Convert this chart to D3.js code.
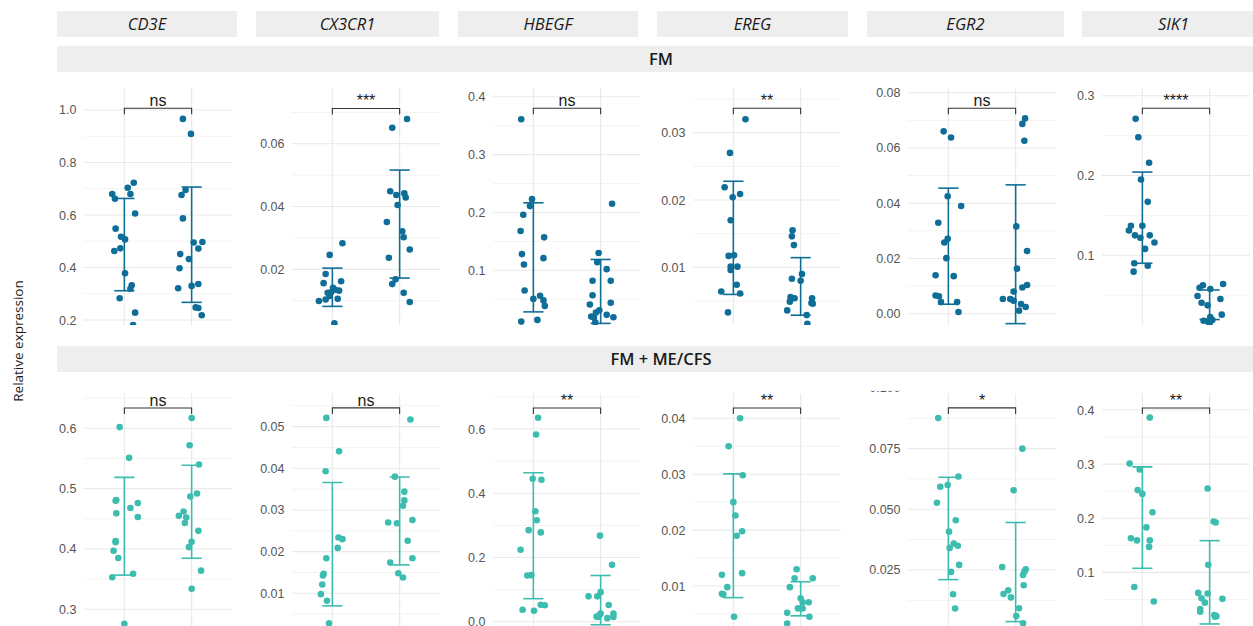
<!DOCTYPE html>
<html>
<head>
<meta charset="utf-8">
<script src="https://cdn.jsdelivr.net/npm/d3@7"></script>
<style>
  body { margin: 0; background: #ffffff; }
  svg { display: block; }
</style>
</head>
<body>
<svg id="chart" width="1253" height="626"></svg>
<script>
// ---------------------------------------------------------------
// Data: relative expression per gene, two cohorts, two conditions
// ---------------------------------------------------------------
const genes = ["CD3E", "CX3CR1", "HBEGF", "EREG", "EGR2", "SIK1"];
const cohorts = ["FM", "FM + ME/CFS"];
const conditions = ["Control", "Patient"];

// FM cohort, one list per gene (same order as `genes`)
const fmControl = [
  [0.680, 0.662, 0.704, 0.680, 0.723, 0.606, 0.548, 0.517, 0.507, 0.473, 0.463, 0.378, 0.332, 0.319, 0.283, 0.228, 0.181],
  [0.0283, 0.0246, 0.0185, 0.0156, 0.0162, 0.0141, 0.0132, 0.0127, 0.0125, 0.0104, 0.0099, 0.0106, 0.0028, 0.0115, 0.0135],
  [0.361, 0.223, 0.211, 0.196, 0.168, 0.157, 0.128, 0.121, 0.110, 0.065, 0.056, 0.0506, 0.048, 0.0385, 0.0143, 0.0114],
  [0.0320, 0.0270, 0.0219, 0.0204, 0.0209, 0.0170, 0.0117, 0.0118, 0.0101, 0.0101, 0.0096, 0.0074, 0.0064, 0.0061, 0.0033],
  [0.0660, 0.0638, 0.0425, 0.0390, 0.0329, 0.0271, 0.0258, 0.0201, 0.0139, 0.0136, 0.0066, 0.0063, 0.0042, 0.0042, 0.0006],
  [0.271, 0.248, 0.216, 0.195, 0.167, 0.137, 0.131, 0.137, 0.125, 0.125, 0.122, 0.116, 0.108, 0.090, 0.087, 0.0795]
];
const fmPatient = [
  [0.966, 0.909, 0.695, 0.676, 0.587, 0.495, 0.497, 0.472, 0.451, 0.432, 0.397, 0.321, 0.330, 0.337, 0.248, 0.246, 0.218],
  [0.0679, 0.0651, 0.0449, 0.0437, 0.0442, 0.0429, 0.0405, 0.0351, 0.0321, 0.0302, 0.0263, 0.0237, 0.0168, 0.0153, 0.0125, 0.0096],
  [0.215, 0.130, 0.114, 0.102, 0.082, 0.082, 0.057, 0.041, 0.044, 0.031, 0.027, 0.023, 0.020, 0.019, 0.019, 0.010],
  [0.0155, 0.0146, 0.0133, 0.0083, 0.0090, 0.0080, 0.0056, 0.0054, 0.0049, 0.0054, 0.0047, 0.0046, 0.0036, 0.0029, 0.0016],
  [0.0707, 0.0687, 0.0626, 0.0316, 0.0227, 0.0163, 0.0104, 0.0095, 0.0080, 0.0053, 0.0053, 0.0047, 0.0035, 0.0024, 0.0011],
  [0.064, 0.0624, 0.0594, 0.0578, 0.049, 0.0453, 0.0406, 0.0373, 0.0256, 0.0227, 0.018, 0.0173, 0.0189, 0.014]
];

// FM + ME/CFS cohort
const mixControl = [
  [0.602, 0.551, 0.481, 0.480, 0.476, 0.468, 0.459, 0.453, 0.413, 0.411, 0.397, 0.385, 0.359, 0.353, 0.276],
  [0.0521, 0.0441, 0.0393, 0.0234, 0.0230, 0.0209, 0.0184, 0.0147, 0.0143, 0.0121, 0.0098, 0.0082, 0.0028],
  [0.635, 0.583, 0.445, 0.442, 0.344, 0.316, 0.285, 0.278, 0.224, 0.144, 0.145, 0.037, 0.034, 0.053, 0.051],
  [0.0400, 0.0350, 0.0298, 0.0250, 0.0226, 0.0198, 0.0190, 0.0123, 0.0120, 0.0098, 0.0086, 0.0085, 0.0045],
  [0.0876, 0.0635, 0.0600, 0.0593, 0.0527, 0.0455, 0.0408, 0.0359, 0.0350, 0.0341, 0.0271, 0.0242, 0.0150, 0.0091],
  [0.386, 0.301, 0.290, 0.252, 0.245, 0.211, 0.183, 0.163, 0.159, 0.159, 0.147, 0.073, 0.046]
];
const mixPatient = [
  [0.617, 0.572, 0.540, 0.492, 0.487, 0.462, 0.455, 0.452, 0.443, 0.430, 0.412, 0.403, 0.364, 0.334],
  [0.0517, 0.0380, 0.0344, 0.0323, 0.0310, 0.0276, 0.0270, 0.0268, 0.0226, 0.0184, 0.0174, 0.0148, 0.0138],
  [0.268, 0.177, 0.079, 0.092, 0.079, 0.052, 0.025, 0.015, 0.025, 0.011, 0.015, 0.020, 0.016],
  [0.0130, 0.0114, 0.0114, 0.0098, 0.0078, 0.0071, 0.0071, 0.0060, 0.0060, 0.0052, 0.0045, 0.0033],
  [0.0750, 0.0578, 0.0262, 0.0253, 0.0243, 0.0229, 0.0187, 0.0166, 0.0151, 0.0137, 0.0092, 0.0060, 0.0030],
  [0.255, 0.194, 0.192, 0.114, 0.062, 0.061, 0.052, 0.051, 0.044, 0.032, 0.027, 0.021, 0.019, 0.018]
];

// Horizontal jitter of every point, in category units (one per value above)
const fmControlJitter = [
  [-0.18, -0.14, 0.05, 0.09, 0.14, 0.16, -0.13, -0.05, 0.01, -0.06, -0.15, 0.01, 0.11, 0.09, -0.07, 0.16, 0.13],
  [0.15, -0.04, -0.10, -0.13, 0.13, 0.01, 0.10, -0.02, -0.07, -0.10, -0.20, 0.08, 0.03, -0.04, 0.04],
  [-0.18, -0.02, -0.05, -0.15, -0.19, 0.16, -0.17, 0.15, -0.14, -0.13, 0.10, 0.00, 0.15, 0.17, 0.06, -0.18],
  [0.18, -0.05, -0.13, -0.01, 0.10, -0.04, -0.07, 0.01, -0.04, 0.06, -0.04, 0.05, -0.18, 0.10, -0.08],
  [-0.07, 0.04, -0.01, 0.19, -0.15, -0.01, -0.06, -0.03, -0.19, 0.08, -0.19, -0.14, -0.11, 0.13, 0.15],
  [-0.10, -0.06, 0.10, -0.02, 0.08, -0.17, -0.20, 0.00, -0.11, 0.11, -0.03, 0.18, 0.04, -0.12, 0.08, -0.13]
];
const fmPatientJitter = [
  [-0.13, -0.01, -0.09, -0.15, -0.13, 0.03, 0.16, 0.10, -0.17, -0.04, -0.18, -0.20, 0.00, 0.10, 0.06, 0.10, 0.15],
  [0.11, -0.11, -0.14, -0.05, 0.07, 0.09, -0.03, -0.19, 0.04, 0.06, 0.15, -0.16, -0.06, -0.11, 0.06, 0.15],
  [0.17, -0.03, -0.05, 0.09, -0.12, 0.15, -0.12, -0.16, 0.15, -0.02, -0.07, 0.09, -0.14, -0.10, 0.19, -0.08],
  [-0.12, -0.13, -0.10, -0.13, 0.02, 0.00, -0.15, -0.09, -0.16, 0.17, 0.16, 0.18, -0.20, 0.09, 0.10],
  [0.14, 0.10, 0.13, 0.01, 0.17, 0.02, 0.17, 0.10, -0.03, -0.19, -0.08, -0.03, 0.08, 0.15, 0.05],
  [0.20, -0.10, -0.15, 0.01, -0.18, 0.16, -0.12, -0.03, 0.18, 0.01, -0.09, -0.03, 0.04, 0.00]
];
const mixControlJitter = [
  [-0.07, 0.07, -0.12, -0.13, 0.20, 0.09, -0.12, 0.20, -0.13, -0.13, -0.16, -0.09, 0.13, -0.18, 0.00],
  [-0.09, 0.10, -0.10, 0.09, 0.15, 0.08, -0.09, -0.13, -0.14, -0.15, -0.17, -0.08, -0.05],
  [0.07, 0.04, -0.01, 0.12, 0.03, 0.05, -0.07, 0.11, -0.19, -0.09, -0.03, -0.16, 0.01, 0.11, 0.17],
  [0.10, -0.07, 0.14, 0.00, 0.03, 0.13, 0.05, 0.13, -0.17, -0.09, -0.17, -0.15, 0.01],
  [-0.15, 0.15, -0.01, -0.12, -0.17, 0.11, 0.01, 0.08, 0.14, 0.02, 0.16, 0.04, 0.07, 0.10],
  [0.11, -0.19, -0.04, -0.07, 0.00, 0.15, 0.06, -0.17, -0.08, 0.11, 0.10, -0.12, 0.17]
];
const mixPatientJitter = [
  [0.00, -0.03, 0.11, 0.08, -0.02, -0.12, -0.19, -0.08, -0.10, 0.10, 0.00, -0.04, 0.14, 0.00],
  [0.16, -0.07, 0.07, 0.07, 0.05, 0.19, -0.17, -0.04, 0.12, 0.19, -0.14, -0.02, 0.05],
  [-0.01, 0.17, -0.18, 0.00, -0.05, 0.12, 0.00, -0.04, 0.19, 0.10, 0.19, -0.02, -0.06],
  [-0.06, -0.09, 0.18, -0.16, 0.00, 0.03, 0.12, -0.04, 0.03, -0.20, 0.13, -0.20],
  [0.10, -0.03, -0.20, 0.15, 0.13, 0.11, 0.12, -0.11, -0.18, -0.07, 0.05, 0.01, 0.11],
  [-0.03, 0.06, 0.09, -0.02, -0.17, -0.03, -0.12, 0.19, -0.07, -0.14, -0.14, 0.07, 0.10, 0.08]
];

// Significance of control vs patient
const fmSignif = ["ns", "***", "ns", "**", "ns", "****"];
const mixSignif = ["ns", "ns", "**", "**", "*", "**"];

// Height of each comparison bracket (data units)
const fmBracket = [1.0065, 0.07127, 0.380, 0.03363, 0.07435, 0.2842];
const mixBracket = [0.6336, 0.0545, 0.6654, 0.04184, 0.09178, 0.4037];

// Y-axis tick labels per panel
const fmTickLabels = [
  ["0.2", "0.4", "0.6", "0.8", "1.0"],
  ["0.02", "0.04", "0.06"],
  ["0.1", "0.2", "0.3", "0.4"],
  ["0.01", "0.02", "0.03"],
  ["0.00", "0.02", "0.04", "0.06", "0.08"],
  ["0.1", "0.2", "0.3"]
];
const mixTickLabels = [
  ["0.3", "0.4", "0.5", "0.6"],
  ["0.01", "0.02", "0.03", "0.04", "0.05"],
  ["0.0", "0.2", "0.4", "0.6"],
  ["0.01", "0.02", "0.03", "0.04"],
  ["0.025", "0.050", "0.075", "0.100"],
  ["0.1", "0.2", "0.3", "0.4"]
];

// Visible y range of each panel
const fmLimits = [[0.181, 1.0876], [0.00226, 0.0781], [0.0055, 0.4168], [0.00143, 0.03679], [-0.00409, 0.08206], [0.01266, 0.3109]];
const mixLimits = [[0.2635, 0.658], [0.00088, 0.058], [-0.0299, 0.7112], [0.0019, 0.04447], [-0.00027, 0.0978], [-0.009, 0.4309]];

// ---------------------------------------------------------------
// Layout and style
// ---------------------------------------------------------------
const rows = [
  { name: cohorts[0], groups: [fmControl, fmPatient], jitter: [fmControlJitter, fmPatientJitter],
    signif: fmSignif, bracket: fmBracket, ticks: fmTickLabels, limits: fmLimits, color: "#0f6e98" },
  { name: cohorts[1], groups: [mixControl, mixPatient], jitter: [mixControlJitter, mixPatientJitter],
    signif: mixSignif, bracket: mixBracket, ticks: mixTickLabels, limits: mixLimits, color: "#3dbdaf" }
];

const W = 1253, H = 626;
const panelW = 148, panelH = 238;
const panelLeft = [84, 292, 493, 693, 908, 1102];
const geneStrip = [[57, 237], [256, 439], [458, 638], [657, 848], [867, 1064], [1082, 1265]];
const rowTop = [87, 393.3];
const rowStripTop = [46, 346];
const stripFill = "#eeeeee";
const tickFont = "'Liberation Sans', Arial, sans-serif";
const stripFont = "'Open Sans', 'Noto Sans', sans-serif";

const svg = d3.select("#chart");
svg.append("rect").attr("width", W).attr("height", H).attr("fill", "#ffffff");
const defs = svg.append("defs");

// Gene strips across the top
genes.forEach((gene, i) => {
  const [a, b] = geneStrip[i];
  svg.append("rect").attr("x", a).attr("y", 11).attr("width", b - a).attr("height", 26).attr("fill", stripFill);
  svg.append("text")
    .attr("x", (a + b) / 2).attr("y", 24).attr("dy", "0.36em")
    .attr("text-anchor", "middle")
    .attr("font-family", stripFont).attr("font-style", "italic")
    .attr("font-size", 16.5).attr("fill", "#1a1a1a")
    .text(gene);
});

// Cohort strips
rows.forEach((row, r) => {
  svg.append("rect").attr("x", 57).attr("y", rowStripTop[r]).attr("width", 1265 - 57).attr("height", 26).attr("fill", stripFill);
  svg.append("text")
    .attr("x", 661).attr("y", rowStripTop[r] + 13).attr("dy", "0.36em")
    .attr("text-anchor", "middle")
    .attr("font-family", stripFont).attr("font-weight", 600)
    .attr("font-size", 16.5).attr("fill", "#1a1a1a")
    .text(row.name);
});

// Shared y-axis title
svg.append("text")
  .attr("transform", "translate(18,341) rotate(-90)")
  .attr("dy", "0.36em")
  .attr("text-anchor", "middle")
  .attr("font-family", stripFont).attr("font-size", 13.5).attr("fill", "#1a1a1a")
  .text("Relative expression");

// One panel per cohort x gene
rows.forEach((row, r) => {
  const top = rowTop[r];

  // tick labels may spill just above the panel; keep them inside this band
  const labelClipId = `labels-${r}`;
  defs.append("clipPath").attr("id", labelClipId)
    .append("rect").attr("x", 0).attr("y", top - 2.5).attr("width", W).attr("height", panelH + 10);
  const labelLayer = svg.append("g").attr("clip-path", `url(#${labelClipId})`);

  genes.forEach((gene, c) => {
    const left = panelLeft[c];
    const x = d3.scaleLinear().domain([0.4, 2.6]).range([left, left + panelW]);
    const y = d3.scaleLinear().domain(row.limits[c]).range([top + panelH, top]);

    const clipId = `panel-${r}-${c}`;
    defs.append("clipPath").attr("id", clipId)
      .append("rect").attr("x", left).attr("y", top).attr("width", panelW).attr("height", panelH);

    const g = svg.append("g").attr("clip-path", `url(#${clipId})`);

    // grid: minor lines halfway between major ticks, then majors, then category lines
    const tickVals = row.ticks[c].map(Number);
    const step = tickVals[1] - tickVals[0];
    const minor = d3.range(-1, tickVals.length).map(k => tickVals[0] + step * (k + 0.5));
    g.selectAll(null).data(minor).join("line")
      .attr("x1", left).attr("x2", left + panelW)
      .attr("y1", d => y(d)).attr("y2", d => y(d))
      .attr("stroke", "#f3f3f3").attr("stroke-width", 1);
    g.selectAll(null).data(tickVals).join("line")
      .attr("x1", left).attr("x2", left + panelW)
      .attr("y1", d => y(d)).attr("y2", d => y(d))
      .attr("stroke", "#e9e9e9").attr("stroke-width", 1.1);
    g.selectAll(null).data([1, 2]).join("line")
      .attr("x1", d => x(d)).attr("x2", d => x(d))
      .attr("y1", top).attr("y2", top + panelH)
      .attr("stroke", "#e9e9e9").attr("stroke-width", 1.1);

    // y-axis labels
    const axis = d3.axisLeft(y)
      .tickValues(tickVals)
      .tickFormat((d, k) => row.ticks[c][k])
      .tickSize(0).tickPadding(7.5);
    const ax = labelLayer.append("g")
      .attr("transform", `translate(${left},0)`)
      .call(axis);
    ax.select(".domain").remove();
    ax.selectAll("text")
      .attr("font-family", tickFont).attr("font-size", 12.5).attr("fill", "#555555");

    // jittered points
    row.groups.forEach((grp, k) => {
      const vals = grp[c];
      const jit = row.jitter[k][c];
      g.selectAll(null).data(vals).join("circle")
        .attr("cx", (d, i) => x(k + 1 + jit[i]))
        .attr("cy", d => y(d))
        .attr("r", 3.3)
        .attr("fill", row.color);
    });

    // mean +/- SD error bars
    row.groups.forEach((grp, k) => {
      const vals = grp[c];
      const m = d3.mean(vals), sd = d3.deviation(vals);
      const cx = k + 1;
      const eb = g.append("g").attr("stroke", row.color).attr("stroke-width", 1.6).attr("fill", "none");
      eb.append("line").attr("x1", x(cx)).attr("x2", x(cx)).attr("y1", y(m - sd)).attr("y2", y(m + sd));
      [m - sd, m + sd].forEach(v => {
        eb.append("line").attr("x1", x(cx - 0.15)).attr("x2", x(cx + 0.15)).attr("y1", y(v)).attr("y2", y(v));
      });
    });

    // comparison bracket and label
    const by = y(row.bracket[c]);
    g.append("path")
      .attr("d", `M${x(1)},${by + 6}V${by}H${x(2)}V${by + 6}`)
      .attr("fill", "none").attr("stroke", "#333333").attr("stroke-width", 1.1);
    g.append("text")
      .attr("x", x(1.5)).attr("y", by - 2.3)
      .attr("text-anchor", "middle")
      .attr("font-family", tickFont).attr("font-size", 16).attr("fill", "#1a1a1a")
      .text(row.signif[c]);
  });
});
</script>
</body>
</html>
